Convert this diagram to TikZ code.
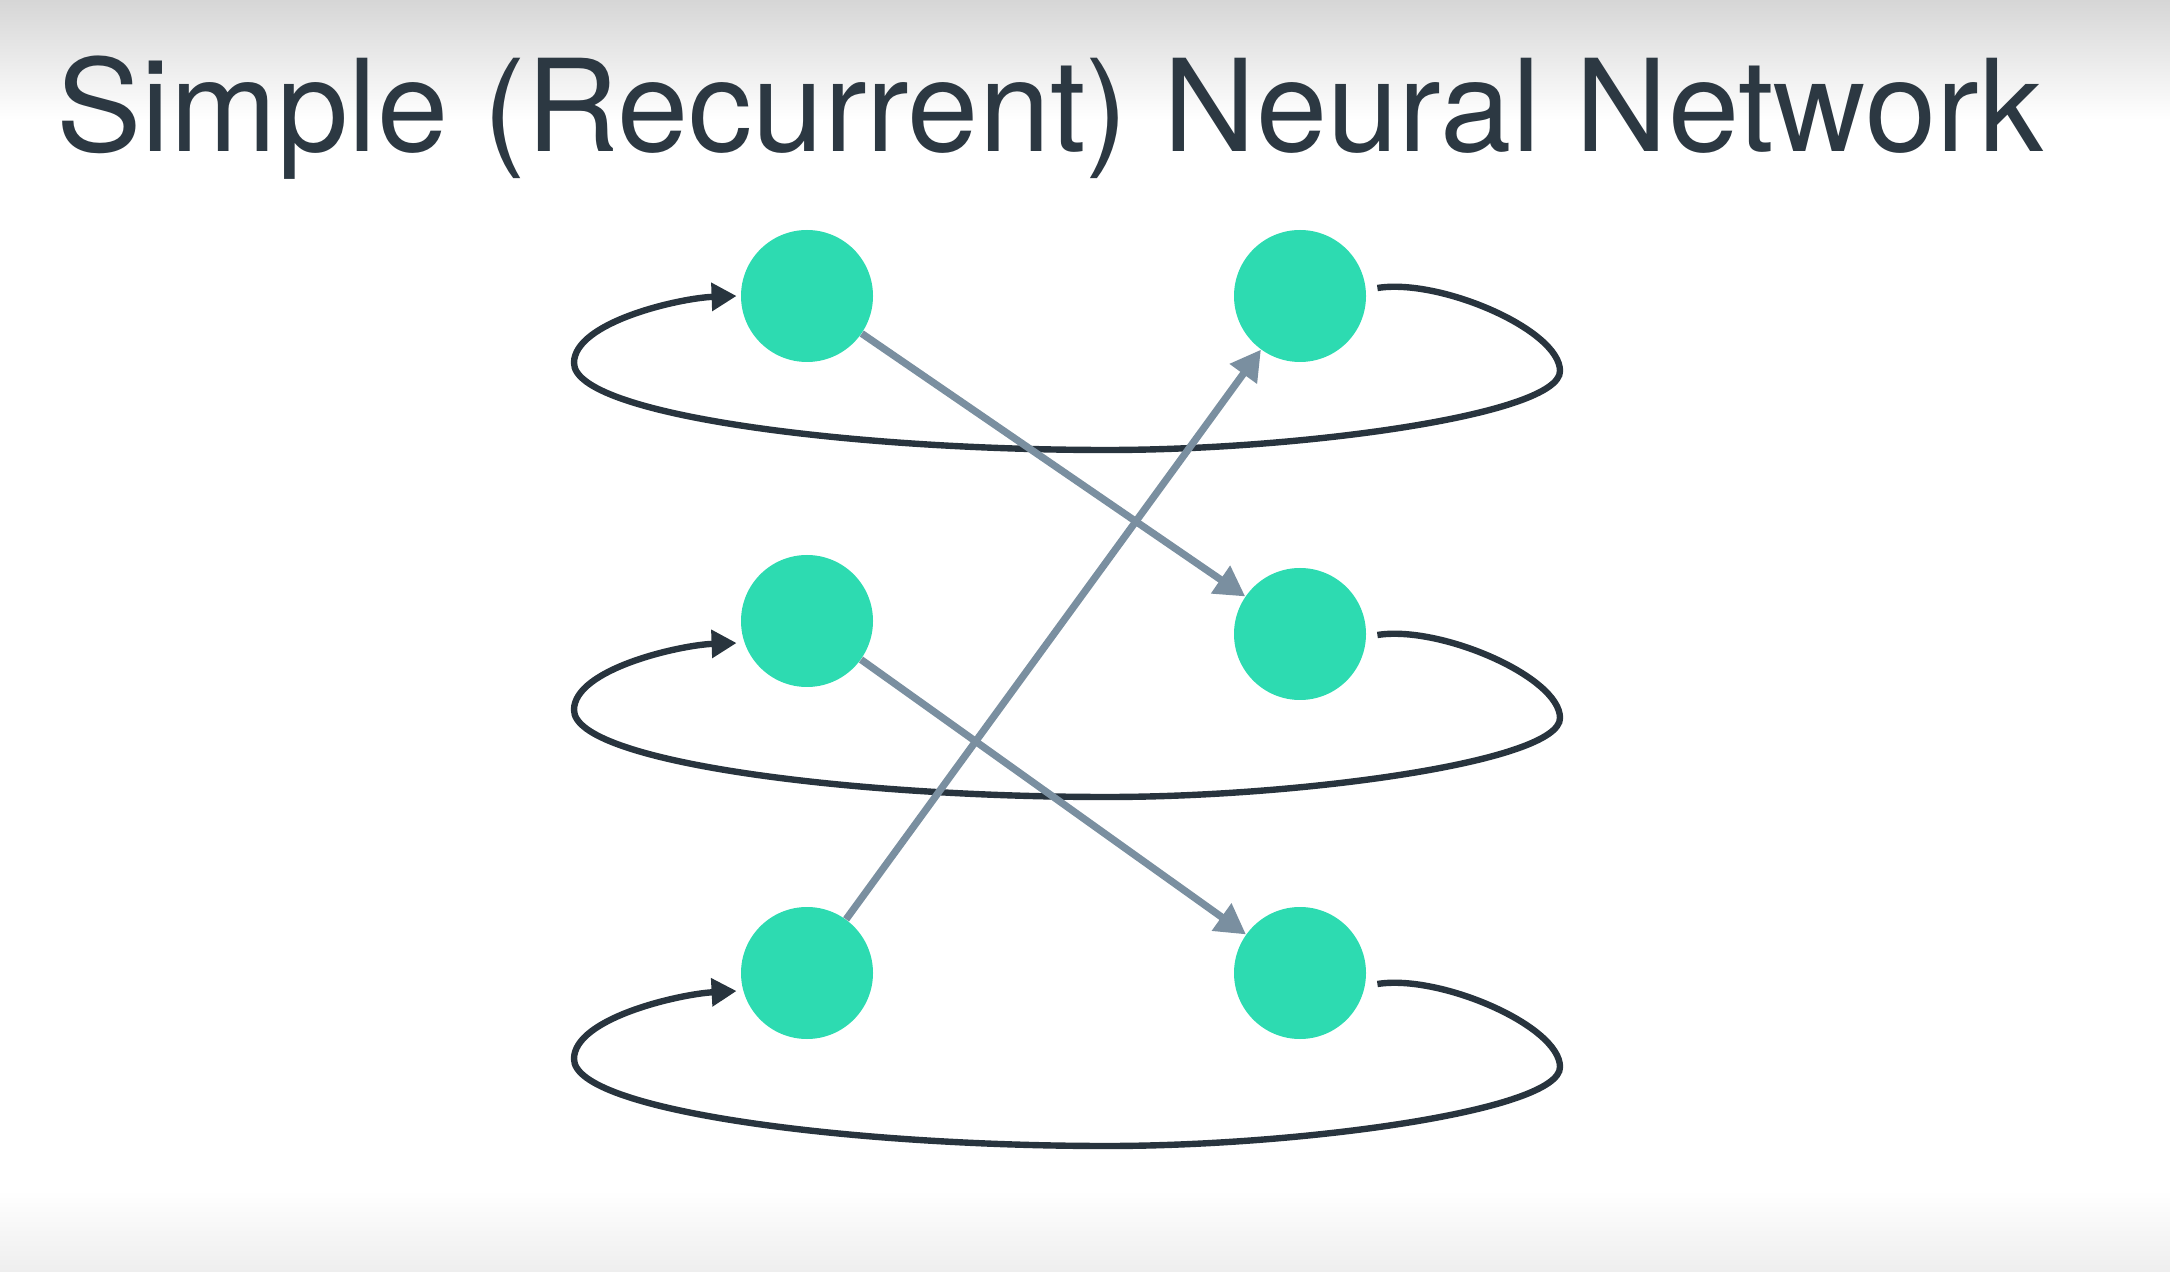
\documentclass[tikz,border=0pt]{standalone}
\usepackage{fontspec}
\setmainfont{TeX Gyre Heros}
\usetikzlibrary{arrows.meta,calc}
\definecolor{nodefill}{RGB}{45,219,177}
\definecolor{darkline}{RGB}{40,52,62}
\definecolor{grayline}{RGB}{122,143,160}
\definecolor{titlecol}{RGB}{44,56,66}
\definecolor{topgray}{RGB}{214,214,214}
\definecolor{botgray}{RGB}{238,238,238}
\tikzset{
  neuron/.style={circle, fill=nodefill, draw=none, inner sep=0pt, minimum size=66pt},
  loopline/.style={draw=darkline, line width=3.2pt, -{Triangle[length=12.5pt,width=13.5pt,fill=darkline]}},
  weight/.style={draw=grayline, line width=3.6pt, -{Triangle[length=15pt,width=16pt,fill=grayline]}}
}
\begin{document}
\begin{tikzpicture}[x=0.5pt,y=0.5pt]
\useasboundingbox (0,-1272) rectangle (2170,0);
\fill[white] (0,-1272) rectangle (2170,0);
\shade[top color=topgray, bottom color=white] (0,-120) rectangle (2170,0);
\shade[top color=white, bottom color=botgray] (0,-1272) rectangle (2170,-1190);
\node[anchor=base west, inner sep=0pt, text=titlecol, font=\fontsize{64}{70}\selectfont] (title) at (56,-152) {Simple (Recurrent) Neural Network};

\node[neuron] (tl) at (807,-296) {};
\node[neuron] (tr) at (1300,-296) {};
\node[neuron] (ml) at (807,-621) {};
\node[neuron] (mr) at (1300,-634) {};
\node[neuron] (bl) at (807,-973) {};
\node[neuron] (br) at (1300,-973) {};

% recurrent loops
\draw[loopline] ([shift={(11,8)}]tr.east) .. controls (1440,-278) and (1560,-330) .. (1560,-371)
  .. controls (1560,-415) and (1300,-450) .. (1107,-450)
  .. controls (850,-450) and (574,-415) .. (574,-363)
  .. controls (574,-322) and (680,-298) .. ([shift={(-4,0)}]tl.west);
\draw[loopline] ([shift={(11,-1)}]mr.east) .. controls (1440,-625) and (1560,-677) .. (1560,-718)
  .. controls (1560,-762) and (1300,-797) .. (1107,-797)
  .. controls (850,-797) and (574,-762) .. (574,-710)
  .. controls (574,-669) and (680,-645) .. ([shift={(-4,-22)}]ml.west);
\draw[loopline] ([shift={(11,-11)}]br.east) .. controls (1440,-974) and (1560,-1026) .. (1560,-1067)
  .. controls (1560,-1111) and (1300,-1146) .. (1107,-1146)
  .. controls (850,-1146) and (574,-1111) .. (574,-1059)
  .. controls (574,-1018) and (680,-994) .. ([shift={(-4,-18)}]bl.west);

% weights
\draw[weight] (tl) -- (mr);
\draw[weight] (ml) -- (br);
\draw[weight] (bl) -- (tr);
\end{tikzpicture}
\end{document}
